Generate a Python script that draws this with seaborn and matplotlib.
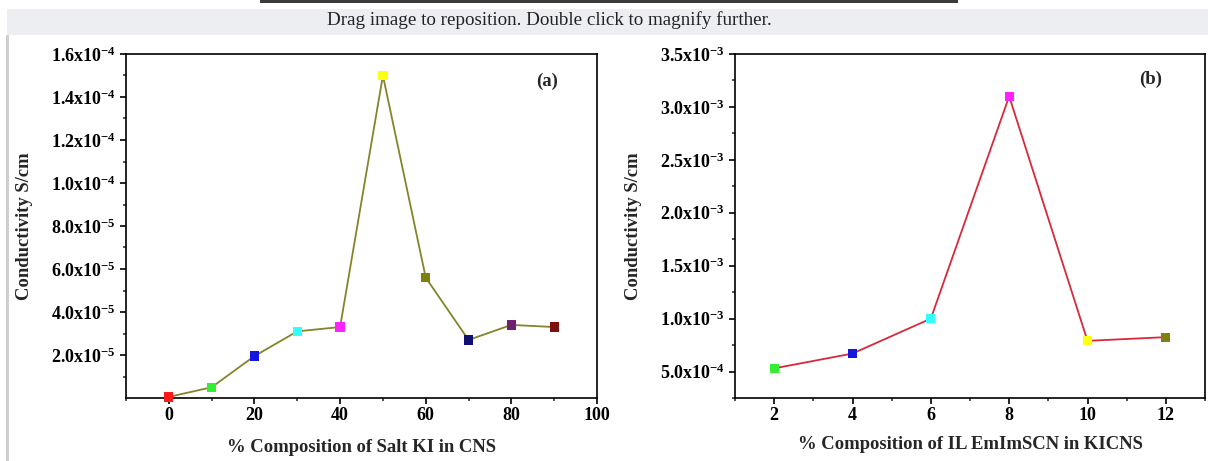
import matplotlib
matplotlib.use("Agg")
import matplotlib.pyplot as plt
from matplotlib.patches import Rectangle
from matplotlib.ticker import FixedLocator, MultipleLocator, FuncFormatter
import seaborn as sns
import pandas as pd

# ---- data -------------------------------------------------------------
salt_ki_pct = [0, 10, 20, 30, 40, 50, 60, 70, 80, 90]
cond_a = [0.5e-6, 5.0e-6, 1.95e-5, 3.1e-5, 3.3e-5, 1.50e-4, 5.6e-5, 2.7e-5, 3.4e-5, 3.3e-5]
colors_a = ["#ff1a1a", "#33ee33", "#1515e0", "#33ffff", "#ff22ff",
            "#ffff10", "#808010", "#101070", "#702070", "#801010"]

il_pct = [2, 4, 6, 8, 10, 12]
cond_b = [5.3e-4, 6.7e-4, 1.0e-3, 3.1e-3, 7.9e-4, 8.25e-4]
colors_b = ["#33ee33", "#1515e0", "#33ffff", "#ff22ff", "#ffff10", "#808010"]

xlabel_a = "% Composition of Salt KI in CNS"
xlabel_b = "% Composition of IL EmImSCN in KICNS"
ylabel = "Conductivity S/cm"

# ---- style ------------------------------------------------------------
sns.set_theme(style="white")
plt.rcParams["font.family"] = ["Liberation Serif", "DejaVu Serif"]
plt.rcParams["font.weight"] = "bold"
plt.rcParams["mathtext.fontset"] = "custom"
plt.rcParams["mathtext.rm"] = "Liberation Serif:bold"
plt.rcParams["mathtext.bf"] = "Liberation Serif:bold"
plt.rcParams["mathtext.it"] = "Liberation Serif:bold"
plt.rcParams["mathtext.default"] = "bf"

W, H = 1208, 461
fig = plt.figure(figsize=(W / 100, H / 100), dpi=100)
fig.patch.set_facecolor("white")


def px_axes(left, top, right, bottom):
    return fig.add_axes([left / W, 1 - bottom / H, (right - left) / W, (bottom - top) / H])


def sci_label(v, pos):
    if v <= 0:
        return ""
    exp = 0
    m = v
    while m < 1 - 1e-9:
        m *= 10
        exp -= 1
    return f"{m:.1f}x10$^{{{exp}}}$"


def style_axes(ax):
    for s in ax.spines.values():
        s.set_color("black")
        s.set_linewidth(1.2)
    ax.tick_params(axis="both", which="major", direction="out", length=4.2, width=1.2,
                   colors="black", labelsize=13, bottom=True, left=True, top=False, right=False)
    ax.tick_params(axis="both", which="minor", direction="out", length=2.4, width=1.1,
                   bottom=True, left=True, top=False, right=False)
    ax.tick_params(axis="x", which="major", pad=2)
    ax.tick_params(axis="y", which="major", pad=3)
    for lab in ax.get_xticklabels() + ax.get_yticklabels():
        lab.set_fontweight("bold")
    ax.grid(False)


# ---- panel (a) --------------------------------------------------------
df_a = pd.DataFrame({"pct": salt_ki_pct, "cond": cond_a, "id": [str(v) for v in salt_ki_pct]})
ax1 = px_axes(126, 54, 597, 398)
sns.lineplot(data=df_a, x="pct", y="cond", color="#84842a", linewidth=1.3, ax=ax1, zorder=2)
sns.scatterplot(data=df_a, x="pct", y="cond", hue="id", palette=colors_a, marker="s",
                s=44, linewidth=0, legend=False, ax=ax1, zorder=3, clip_on=False)
ax1.set_xlim(-10, 100)
ax1.set_ylim(0, 1.6e-4)
ax1.xaxis.set_major_locator(FixedLocator([0, 20, 40, 60, 80, 100]))
ax1.xaxis.set_minor_locator(FixedLocator([-10, 10, 30, 50, 70, 90]))
ax1.yaxis.set_major_locator(FixedLocator([i * 2e-5 for i in range(1, 9)]))
ax1.yaxis.set_minor_locator(FixedLocator([i * 2e-5 + 1e-5 for i in range(0, 8)]))
ax1.yaxis.set_major_formatter(FuncFormatter(sci_label))
ax1.set_xlabel(xlabel_a, fontsize=13.4, fontweight="bold", labelpad=11)
ax1.set_ylabel(ylabel, fontsize=13.4, fontweight="bold", labelpad=13)
ax1.text(0.895, 0.92, "(a)", transform=ax1.transAxes, fontsize=13.5, fontweight="bold",
         ha="center", va="center")
style_axes(ax1)

# ---- panel (b) --------------------------------------------------------
df_b = pd.DataFrame({"pct": il_pct, "cond": cond_b, "id": [str(v) for v in il_pct]})
ax2 = px_axes(735, 54, 1205, 398)
sns.lineplot(data=df_b, x="pct", y="cond", color="#d8283a", linewidth=1.3, ax=ax2, zorder=2)
sns.scatterplot(data=df_b, x="pct", y="cond", hue="id", palette=colors_b, marker="s",
                s=44, linewidth=0, legend=False, ax=ax2, zorder=3, clip_on=False)
ax2.set_xlim(1, 13)
ax2.set_ylim(2.5e-4, 3.5e-3)
ax2.xaxis.set_major_locator(MultipleLocator(2))
ax2.xaxis.set_minor_locator(FixedLocator([1, 3, 5, 7, 9, 11, 13]))
ax2.yaxis.set_major_locator(FixedLocator([i * 5e-4 for i in range(1, 8)]))
ax2.yaxis.set_minor_locator(FixedLocator([i * 5e-4 + 2.5e-4 for i in range(0, 7)]))
ax2.yaxis.set_major_formatter(FuncFormatter(sci_label))
ax2.set_xlabel(xlabel_b, fontsize=13.4, fontweight="bold", labelpad=9)
ax2.set_ylabel(ylabel, fontsize=13.4, fontweight="bold", labelpad=13)
ax2.text(0.885, 0.925, "(b)", transform=ax2.transAxes, fontsize=13.5, fontweight="bold",
         ha="center", va="center")
style_axes(ax2)

# ---- viewer frame around the figure ------------------------------------
fig.add_artist(Rectangle((260 / W, 1 - 3 / H), 698 / W, 3 / H, transform=fig.transFigure,
                         facecolor="#3a3a3a", edgecolor="none", zorder=5))
fig.add_artist(Rectangle((7 / W, 1 - 35 / H), (W - 7) / W, 26 / H, transform=fig.transFigure,
                         facecolor="#eceef2", edgecolor="none", zorder=5))
fig.add_artist(Rectangle((6 / W, 0), 3 / W, 1 - 35 / H, transform=fig.transFigure,
                         facecolor="#cfcfcf", edgecolor="none", zorder=5))
fig.text(549 / W, 1 - 20 / H, "Drag image to reposition. Double click to magnify further.",
         ha="center", va="center", fontsize=13.7, fontweight="normal", color="#222222",
         zorder=6)

fig.savefig("out.png", dpi=100, facecolor="white")
